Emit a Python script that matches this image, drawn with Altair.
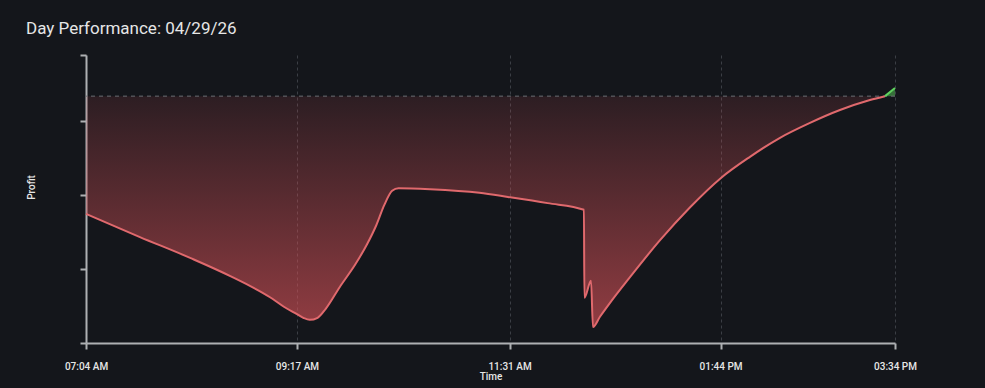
import altair as alt
import pandas as pd

# ---- data ----
times = ["07:04:00", "07:38:00", "08:10:00", "08:35:00", "09:00:00", "09:09:00",
         "09:17:00", "09:21:00", "09:25:00", "09:30:00", "09:35:00", "09:44:00",
         "09:54:00", "10:01:00", "10:07:00", "10:12:00", "10:17:00", "10:21:00",
         "10:41:00", "11:12:00", "11:30:00", "11:55:00", "12:17:54", "12:18:12",
         "12:22:22", "12:23:36", "12:28:00", "12:34:20", "12:46:55", "13:05:53",
         "13:24:50", "13:44:18", "14:02:34", "14:21:30", "14:40:24", "14:59:18",
         "15:18:12", "15:27:42", "15:34:00"]
profit = [-229, -274, -315, -350, -391, -410,
          -424, -431, -435, -431, -414, -371,
          -326, -289, -251, -212, -184, -179,
          -181, -188, -196, -208, -221, -392,
          -359, -449, -429, -402, -352, -280,
          -216, -159, -118, -81, -52, -27,
          -7.5, 0, 16]

tick_times = ["07:04", "09:17", "11:31", "13:44", "15:34"]
tick_labels = ["07:04 AM", "09:17 AM", "11:31 AM", "01:44 PM", "03:34 PM"]
y_ticks = [-480, -336, -192, -48, 80]
y_domain = [-480, 80]


def to_min(s):
    parts = [int(p) for p in s.split(":")]
    m = parts[0] * 60 + parts[1]
    if len(parts) > 2:
        m += parts[2] / 60.0
    return m


df = pd.DataFrame({"t": [to_min(s) for s in times], "profit": profit})
cross = profit.index(0)
red_df = df.iloc[: cross + 1]
green_df = df.iloc[cross:]

tick_vals = [to_min(s) for s in tick_times]
label_expr = " : ".join(
    f"datum.value == {v} ? '{l}'" for v, l in zip(tick_vals, tick_labels)
) + " : ''"

AXIS_C = "#aeb0b3"
TXT_C = "#e6e6e6"
FONT = "Roboto"

x_enc = alt.X(
    "t:Q",
    title="Time",
    scale=alt.Scale(domain=[tick_vals[0], tick_vals[-1]], nice=False, zero=False),
    axis=alt.Axis(
        values=tick_vals, labelExpr=label_expr, grid=True, gridDash=[3, 3],
        gridColor="#3b3e45", gridWidth=1, domainColor=AXIS_C, domainWidth=2,
        tickColor=AXIS_C, tickWidth=2, tickSize=6, labelColor=TXT_C,
        labelFontSize=10, labelFont=FONT, labelFontWeight=500, labelPadding=12,
        labelFlush=False, titleColor=TXT_C, titleFont=FONT, titleFontSize=10,
        titleFontWeight=500, titleY=33, titleBaseline="middle",
    ),
)
y_enc = alt.Y(
    "profit:Q",
    title="Profit",
    scale=alt.Scale(domain=y_domain, nice=False, zero=False),
    axis=alt.Axis(
        values=y_ticks, labels=False, grid=False, domainColor=AXIS_C,
        domainWidth=2, tickColor=AXIS_C, tickWidth=2, tickSize=6,
        titleColor=TXT_C, titleFont=FONT, titleFontSize=10, titleFontWeight=500,
        titleAngle=270, titleX=-55, titleY=132, titleAlign="center",
        titleBaseline="middle",
    ),
)

red_area = alt.Chart(red_df).mark_area(
    interpolate="monotone",
    color=alt.Gradient(
        gradient="linear",
        stops=[
            alt.GradientStop(color="rgba(210,80,86,0.13)", offset=0),
            alt.GradientStop(color="rgba(210,80,86,0.66)", offset=1),
        ],
        x1=0, x2=0, y1=0, y2=1,
    ),
).encode(x=x_enc, y=y_enc, y2=alt.datum(0))

green_area = alt.Chart(green_df).mark_area(
    interpolate="monotone", color="#4caf50", opacity=0.6
).encode(x="t:Q", y="profit:Q", y2=alt.datum(0))

zero_rule = alt.Chart(pd.DataFrame({"z": [0]})).mark_rule(
    color="#6b6e74", strokeDash=[4, 4], strokeWidth=1
).encode(y="z:Q")

red_line = alt.Chart(red_df).mark_line(
    interpolate="monotone", color="#e0696d", strokeWidth=2
).encode(x="t:Q", y="profit:Q")

green_line = alt.Chart(green_df).mark_line(
    interpolate="monotone", color="#5fd35f", strokeWidth=2
).encode(x="t:Q", y="profit:Q")

chart = alt.layer(red_area, green_area, zero_rule, red_line, green_line).properties(
    width=809,
    height=288,
    padding={"left": 86, "top": 55, "right": 90, "bottom": 45},
    autosize=alt.AutoSizeParams(type="none"),
    background="#14161b",
    title=alt.TitleParams(
        "Day Performance: 04/29/26", anchor="start", frame="group",
        font=FONT, fontSize=17, fontWeight="normal", color=TXT_C,
        dx=-60, dy=17, offset=20, baseline="alphabetic",
    ),
).configure_view(stroke=None)

chart.save("out.html", embed_options={"renderer": "svg", "actions": False})
